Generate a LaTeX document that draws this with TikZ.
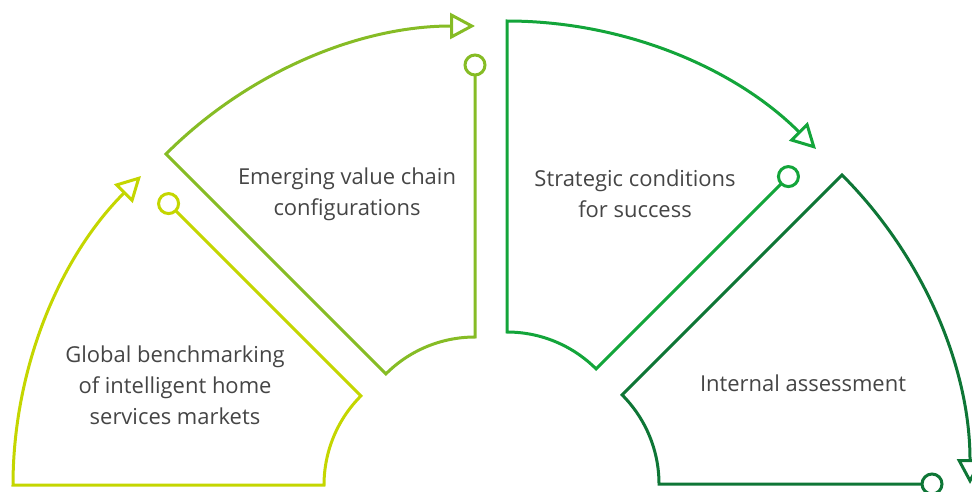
\documentclass[tikz,border=0pt]{standalone}
\usepackage{fontspec}
\setmainfont{Open Sans}
\usetikzlibrary{arrows.meta}

\definecolor{limeseg}{HTML}{C4D600}
\definecolor{leafseg}{HTML}{86BC25}
\definecolor{grassseg}{HTML}{13A53A}
\definecolor{pineseg}{HTML}{0E7636}
\definecolor{bodytext}{HTML}{454545}

\tikzset{
  segline/.style={line width=0.06cm, -{Triangle[open,length=0.5cm,width=0.52cm]}},
  enddot/.style={line width=0.06cm, fill=white, draw=#1},
  blurb/.style={align=center, text=bodytext, font=\fontsize{12.5}{17.6}\selectfont}
}

\begin{document}
\begin{tikzpicture}[x=0.02cm,y=0.02cm]
  \useasboundingbox (0,0) rectangle (972,491);
  % ---- first segment: 135..180 ----
  \begin{scope}[shift={(450,6)}]
    \draw[segline, limeseg] (135:398) -- (135:126) arc[start angle=135, end angle=180, radius=126]
      -- (180:437) arc[start angle=180, end angle=135, radius=437];
    \draw[enddot=limeseg] (135:398) circle (10);
  \end{scope}
  % ---- second segment: 90..135 ----
  \begin{scope}[shift={(475,28)}]
    \draw[segline, leafseg] (90:398) -- (90:126) arc[start angle=90, end angle=135, radius=126]
      -- (135:437) arc[start angle=135, end angle=90, radius=437];
    \draw[enddot=leafseg] (90:398) circle (10);
  \end{scope}
  % ---- third segment: 45..90 ----
  \begin{scope}[shift={(507,33)}]
    \draw[segline, grassseg] (45:398) -- (45:126) arc[start angle=45, end angle=90, radius=126]
      -- (90:437) arc[start angle=90, end angle=45, radius=437];
    \draw[enddot=grassseg] (45:398) circle (10);
  \end{scope}
  % ---- fourth segment: 0..45 ----
  \begin{scope}[shift={(533,7)}]
    \draw[segline, pineseg] (0:399) -- (0:126) arc[start angle=0, end angle=45, radius=126]
      -- (45:437) arc[start angle=45, end angle=0, radius=437];
    \draw[enddot=pineseg] (0:399) circle (10);
  \end{scope}
  % ---- texts ----
  \node[blurb] (benchmark) at (175,106) {Global benchmarking\\of intelligent home\\services markets};
  \node[blurb] (valuechain) at (347,297) {Emerging value chain\\configurations};
  \node[blurb] (conditions) at (635,297) {Strategic conditions\\for success};
  \node[blurb] (assessment) at (803,108) {Internal assessment};
\end{tikzpicture}
\end{document}
